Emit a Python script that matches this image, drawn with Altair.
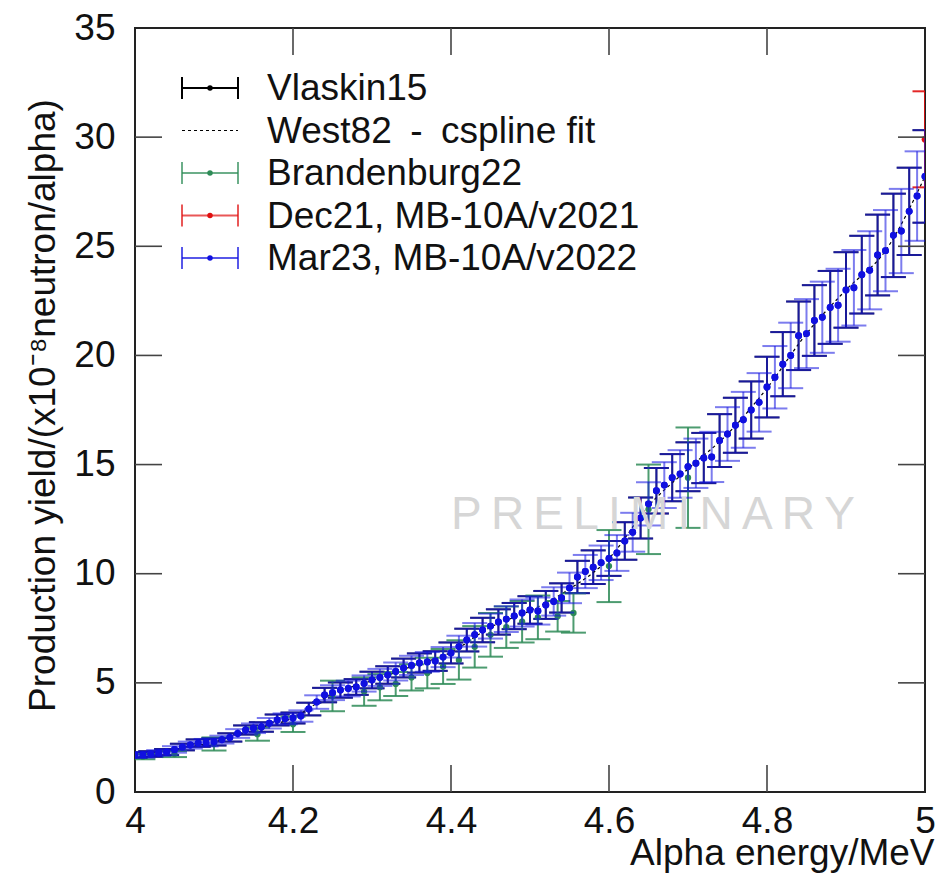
import altair as alt
import pandas as pd

# ---------------- data ----------------
# Mar23, MB-10A/v2022 (blue)
mar23_e = [4.00, 4.01, 4.02, 4.03, 4.04, 4.05, 4.06, 4.07, 4.08, 4.09,
           4.10, 4.11, 4.12, 4.13, 4.14, 4.15, 4.16, 4.17, 4.18, 4.19,
           4.20, 4.21, 4.22, 4.23, 4.24, 4.25, 4.26, 4.27, 4.28, 4.29,
           4.30, 4.31, 4.32, 4.33, 4.34, 4.35, 4.36, 4.37, 4.38, 4.39,
           4.40, 4.41, 4.42, 4.43, 4.44, 4.45, 4.46, 4.47, 4.48, 4.49,
           4.50, 4.51, 4.52, 4.53, 4.54, 4.55, 4.56, 4.57, 4.58, 4.59,
           4.60, 4.61, 4.62, 4.63, 4.64, 4.65, 4.66, 4.67, 4.68, 4.69,
           4.70, 4.71, 4.72, 4.73, 4.74, 4.75, 4.76, 4.77, 4.78, 4.79,
           4.80, 4.81, 4.82, 4.83, 4.84, 4.85, 4.86, 4.87, 4.88, 4.89,
           4.90, 4.91, 4.92, 4.93, 4.94, 4.95, 4.96, 4.97, 4.98, 4.99, 5.00]
mar23_y = [1.69, 1.70, 1.74, 1.79, 1.83, 1.95, 2.06, 2.15, 2.24, 2.26,
           2.30, 2.40, 2.50, 2.68, 2.84, 2.92, 2.98, 3.15, 3.30, 3.35,
           3.39, 3.48, 3.80, 4.12, 4.44, 4.55, 4.67, 4.74, 4.81, 4.97,
           5.13, 5.25, 5.36, 5.52, 5.68, 5.80, 5.91, 5.96, 6.00, 6.18,
           6.37, 6.66, 6.96, 7.20, 7.42, 7.60, 7.79, 7.92, 8.06, 8.20,
           8.34, 8.29, 8.57, 8.73, 8.89, 9.35, 9.85, 10.10, 10.30, 10.50,
           10.70, 10.95, 11.50, 11.90, 12.55, 13.20, 13.80, 14.06, 14.40, 14.57,
           14.90, 15.06, 15.30, 15.35, 16.10, 16.40, 16.80, 17.05, 17.50, 17.85,
           18.55, 19.00, 19.60, 20.00, 20.90, 21.00, 21.60, 21.75, 22.20, 22.30,
           23.00, 23.10, 23.70, 23.90, 24.60, 24.80, 25.50, 25.70, 26.60, 27.30, 28.20]
mar23_err = [0.13, 0.13, 0.13, 0.13, 0.14, 0.15, 0.15, 0.16, 0.17, 0.17,
             0.17, 0.18, 0.19, 0.20, 0.21, 0.22, 0.22, 0.24, 0.25, 0.25,
             0.25, 0.26, 0.29, 0.31, 0.33, 0.34, 0.35, 0.36, 0.36, 0.37,
             0.38, 0.39, 0.40, 0.41, 0.43, 0.44, 0.44, 0.45, 0.45, 0.46,
             0.48, 0.50, 0.52, 0.54, 0.56, 0.57, 0.58, 0.59, 0.60, 0.62,
             0.63, 0.62, 0.64, 0.65, 0.67, 0.70, 0.74, 0.76, 0.77, 0.79,
             0.80, 0.82, 0.86, 0.89, 0.94, 0.99, 1.04, 1.05, 1.08, 1.09,
             1.12, 1.13, 1.15, 1.15, 1.21, 1.23, 1.26, 1.28, 1.31, 1.34,
             1.39, 1.43, 1.47, 1.50, 1.57, 1.58, 1.62, 1.63, 1.67, 1.67,
             1.73, 1.73, 1.78, 1.79, 1.85, 1.86, 1.91, 1.93, 2.00, 2.05, 2.12]

# Vlaskin15 (black)
vlas_e = [4.00, 4.02, 4.04, 4.06, 4.08, 4.10, 4.12, 4.14, 4.16, 4.18,
          4.20, 4.22, 4.24, 4.26, 4.28, 4.30, 4.32, 4.34, 4.36, 4.38,
          4.40, 4.42, 4.44, 4.46, 4.48, 4.50, 4.52, 4.54, 4.56, 4.58,
          4.60, 4.62, 4.64, 4.66, 4.68, 4.70, 4.72, 4.74, 4.76, 4.78,
          4.80, 4.82, 4.84, 4.86, 4.88, 4.90, 4.92, 4.94, 4.96, 4.98, 5.00]
vlas_y = [1.69, 1.74, 1.83, 2.06, 2.24, 2.30, 2.50, 2.84, 2.98, 3.30,
          3.39, 3.80, 4.44, 4.67, 4.81, 5.13, 5.36, 5.68, 5.91, 6.00,
          6.37, 6.96, 7.42, 7.79, 8.06, 8.34, 8.57, 8.89, 9.85, 10.30,
          10.70, 11.50, 12.55, 13.80, 14.40, 14.90, 15.30, 16.10, 16.80, 17.50,
          18.55, 19.60, 20.90, 21.60, 22.20, 23.00, 23.70, 24.60, 25.50, 26.60, 28.20]
vlas_err = [0.13, 0.13, 0.14, 0.15, 0.17, 0.17, 0.19, 0.21, 0.22, 0.25,
            0.25, 0.29, 0.33, 0.35, 0.36, 0.38, 0.40, 0.43, 0.44, 0.45,
            0.48, 0.52, 0.56, 0.58, 0.60, 0.63, 0.64, 0.67, 0.74, 0.77,
            0.80, 0.86, 0.94, 1.04, 1.08, 1.12, 1.15, 1.21, 1.26, 1.31,
            1.39, 1.47, 1.57, 1.62, 1.67, 1.73, 1.78, 1.85, 1.91, 2.00, 2.12]

# West82 - cspline fit (dashed)
west_e = [4.00, 4.05, 4.10, 4.15, 4.20, 4.25, 4.30, 4.35, 4.40, 4.45, 4.50,
          4.55, 4.60, 4.65, 4.70, 4.75, 4.80, 4.85, 4.90, 4.95, 5.00]
west_y = [1.65, 1.95, 2.30, 2.85, 3.40, 4.50, 5.10, 5.75, 6.40, 7.55, 8.30,
          9.30, 10.70, 13.10, 14.80, 16.40, 18.50, 21.00, 23.00, 24.80, 28.20]

# Brandenburg22 (green)
bran_e = [4.01, 4.05, 4.10, 4.155, 4.20, 4.25, 4.29, 4.31, 4.33, 4.35, 4.37, 4.39,
          4.41, 4.43, 4.45, 4.47, 4.49, 4.51, 4.535, 4.555, 4.60, 4.65, 4.70]
bran_y = [1.62, 1.74, 2.20, 2.65, 3.10, 4.40, 4.60, 4.80, 4.95, 5.25, 5.45, 5.75,
          6.05, 6.65, 7.20, 7.55, 7.80, 8.00, 8.05, 8.20, 10.35, 12.95, 14.40]
bran_err = [0.12, 0.14, 0.30, 0.30, 0.35, 0.70, 0.65, 0.60, 0.55, 0.60, 0.70, 0.80,
            0.90, 0.95, 1.00, 0.95, 0.95, 1.00, 0.70, 0.90, 1.65, 2.05, 2.30]

# Dec21, MB-10A/v2021 (red)
dec21_e = [5.00]
dec21_y = [29.9]
dec21_err = [2.2]

x_tick_values = [4.0, 4.2, 4.4, 4.6, 4.8, 5.0]
y_tick_values = [0, 5, 10, 15, 20, 25, 30, 35]
x_inner_ticks = [4.2, 4.4, 4.6, 4.8]
y_inner_ticks = [5, 10, 15, 20, 25, 30]

legend_names = ["Vlaskin15", "West82\u2002-\u2002cspline fit", "Brandenburg22",
                "Dec21, MB-10A/v2021", "Mar23, MB-10A/v2022"]

# ---------------- styling ----------------
FONT = "Liberation Sans"
FS = 37
W, H = 790, 764
BLUE = "#1010e0"
GREEN = "#2e8b57"
RED = "#e01010"
BLACK = "#000000"

xscale = alt.Scale(domain=[4, 5], nice=False, zero=False)
yscale = alt.Scale(domain=[0, 35], nice=False, zero=False)
xaxis = alt.Axis(values=x_tick_values, format="~g", title="Alpha energy/MeV",
                 labelFlush=False, labelOverlap=False, labelPadding=11,
                 titleX=799, titleY=72, titleAlign="right", titleBaseline="alphabetic")
yaxis = alt.Axis(values=y_tick_values, title="Production yield/(x10\u207b\u2078neutron/alpha)",
                 labelFlush=False, labelOverlap=False, labelPadding=20,
                 titleX=-92, titleY=377, titleAngle=-90, titleAlign="center",
                 titleBaseline="middle")


def X(field):
    return alt.X(field, type="quantitative", scale=xscale, axis=xaxis)


def Y(field):
    return alt.Y(field, type="quantitative", scale=yscale, axis=yaxis)


def make_df(e, y, err):
    return pd.DataFrame({"e": e, "y": y,
                         "lo": [a - b for a, b in zip(y, err)],
                         "hi": [a + b for a, b in zip(y, err)]})


def series_layers(df, color, opacity, dot_size, cap=25):
    base = alt.Chart(df)
    bars = base.mark_rule(color=color, strokeWidth=2, opacity=opacity, clip=True).encode(
        x=X("e"), y=Y("lo"), y2="hi")
    cap_lo = base.mark_tick(color=color, orient="horizontal", size=cap, thickness=2,
                            opacity=opacity, clip=True).encode(x=X("e"), y=Y("lo"))
    cap_hi = base.mark_tick(color=color, orient="horizontal", size=cap, thickness=2,
                            opacity=opacity, clip=True).encode(x=X("e"), y=Y("hi"))
    dots = base.mark_circle(color=color, size=dot_size, opacity=1, clip=True).encode(
        x=X("e"), y=Y("y"))
    return [bars, cap_lo, cap_hi, dots]


vlas_df = make_df(vlas_e, vlas_y, vlas_err)
bran_df = make_df(bran_e, bran_y, bran_err)
dec_df = make_df(dec21_e, dec21_y, dec21_err)
mar_df = make_df(mar23_e, mar23_y, mar23_err)
west_df = pd.DataFrame({"e": west_e, "y": west_y})

layers = []
layers += series_layers(vlas_df, "#101030", 0.9, 30)
layers.append(alt.Chart(west_df).mark_line(color=BLACK, strokeWidth=1.2, clip=True,
                                            strokeDash=[3, 3], interpolate="monotone")
              .encode(x=X("e"), y=Y("y")))
layers += series_layers(bran_df, GREEN, 0.85, 40)
layers += series_layers(dec_df, RED, 0.9, 45)
layers += series_layers(mar_df, BLUE, 0.55, 48)
# blue dots fully opaque on top
layers.append(alt.Chart(mar_df).mark_circle(color=BLUE, size=48, opacity=1, clip=True).encode(
    x=X("e"), y=Y("y")))

# inward ticks on all four sides (mirror)
xt = pd.DataFrame({"v": x_inner_ticks})
yt = pd.DataFrame({"v": y_inner_ticks})
TICK_C = "#444444"
TL = 27
layers.append(alt.Chart(xt).mark_rule(color=TICK_C, strokeWidth=1.6).encode(
    x=X("v"), y=alt.value(H), y2=alt.value(H - TL)))
layers.append(alt.Chart(xt).mark_rule(color=TICK_C, strokeWidth=1.6).encode(
    x=X("v"), y=alt.value(0), y2=alt.value(TL)))
layers.append(alt.Chart(yt).mark_rule(color=TICK_C, strokeWidth=1.6).encode(
    y=Y("v"), x=alt.value(0), x2=alt.value(TL)))
layers.append(alt.Chart(yt).mark_rule(color=TICK_C, strokeWidth=1.6).encode(
    y=Y("v"), x=alt.value(W), x2=alt.value(W - TL)))

# legend (gnuplot style key, inside plot)
legend_colors = [BLACK, BLACK, GREEN, RED, BLUE]
legend_kinds = ["err", "dash", "err", "err", "err"]
one = pd.DataFrame({"k": [0]})
LX0, LX1, LXM, LTX = 47, 103, 75, 132
for i, (name, col, kind) in enumerate(zip(legend_names, legend_colors, legend_kinds)):
    yy = 60 + 42.5 * i
    if kind == "err":
        op = 1.0 if col == BLACK else 0.7
        layers.append(alt.Chart(one).mark_rule(color=col, strokeWidth=2, opacity=op).encode(
            x=alt.value(LX0), x2=alt.value(LX1), y=alt.value(yy)))
        layers.append(alt.Chart(one).mark_rule(color=col, strokeWidth=2, opacity=op).encode(
            x=alt.value(LX0), y=alt.value(yy - 11), y2=alt.value(yy + 11)))
        layers.append(alt.Chart(one).mark_rule(color=col, strokeWidth=2, opacity=op).encode(
            x=alt.value(LX1), y=alt.value(yy - 11), y2=alt.value(yy + 11)))
        layers.append(alt.Chart(one).mark_circle(color=col, size=30, opacity=1).encode(
            x=alt.value(LXM), y=alt.value(yy)))
    else:
        layers.append(alt.Chart(one).mark_rule(color=col, strokeWidth=1.2,
                                               strokeDash=[3, 3]).encode(
            x=alt.value(LX0), x2=alt.value(LX1), y=alt.value(yy)))
    layers.append(alt.Chart(one).mark_text(align="left", baseline="alphabetic", fontSize=FS,
                                           font=FONT, color="#111111").encode(
        x=alt.value(LTX), y=alt.value(yy + 12), text=alt.value(name)))

# watermark
layers.append(alt.Chart(one).mark_text(align="center", baseline="middle", fontSize=46,
                                       font=FONT, color="#d6d6d6").encode(
    x=alt.value(518), y=alt.value(487),
    text=alt.value("P\u2009R\u2009E\u2009L\u2009I\u2009M\u2009I\u2009N\u2009A\u2009R\u2009Y")))

chart = alt.layer(*layers).properties(
    width=W, height=H,
    autosize=alt.AutoSizeParams(type="none"),
    padding={"left": 135, "top": 28, "right": 12, "bottom": 85},
).configure_view(
    stroke="#222222", strokeWidth=2
).configure_axis(
    grid=False, domain=False, ticks=False,
    labelFont=FONT, labelFontSize=FS, labelColor="#111111",
    titleFont=FONT, titleFontSize=FS, titleColor="#111111", titleFontWeight="normal",
)

chart.save("out.html", embed_options={"renderer": "svg", "actions": False})
